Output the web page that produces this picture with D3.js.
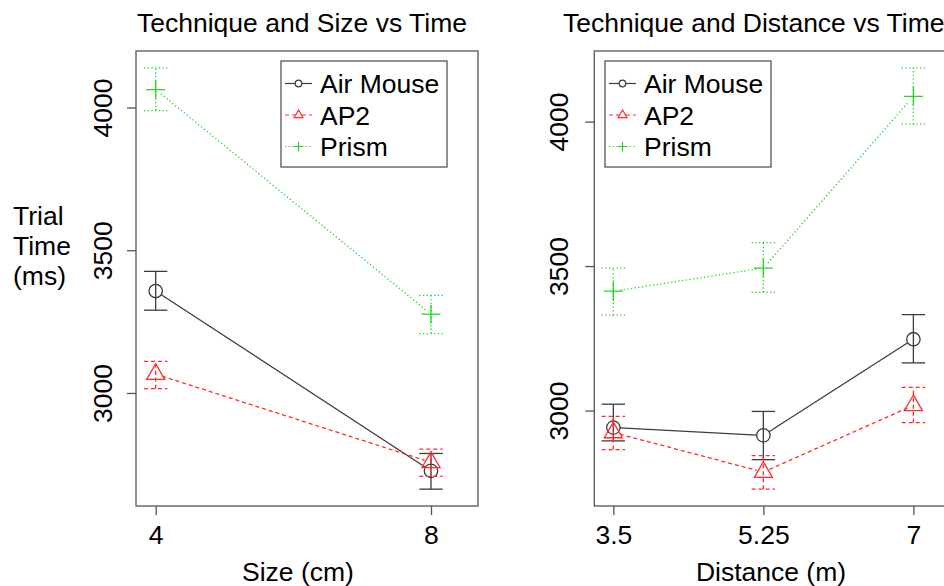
<!DOCTYPE html>
<html>
<head>
<meta charset="utf-8">
<script src="https://cdn.jsdelivr.net/npm/d3@7"></script>
<style>
  html, body { margin: 0; padding: 0; background: #fff; }
  svg { display: block; }
  text { font-family: "Liberation Sans", Arial, sans-serif; fill: #000; }
</style>
</head>
<body>
<svg id="chart" width="944" height="586"></svg>
<script>
// ---------- DATA ----------
const techniques = ["Air Mouse", "AP2", "Prism"];

const sizes = [4, 8];
const sizeTickLabels = ["4", "8"];
const sizeAirMouse   = [3357, 2727];
const sizeAirMouseLo = [3290, 2663];
const sizeAirMouseHi = [3426, 2788];
const sizeAP2        = [3066, 2757];
const sizeAP2Lo      = [3015, 2708];
const sizeAP2Hi      = [3111, 2803];
const sizePrism      = [4063, 3276];
const sizePrismLo    = [3989, 3208];
const sizePrismHi    = [4139, 3342];

const distances = [3.5, 5.25, 7];
const distTickLabels = ["3.5", "5.25", "7"];
const distAirMouse   = [2941, 2914, 3247];
const distAirMouseLo = [2895, 2830, 3165];
const distAirMouseHi = [3022, 2997, 3332];
const distAP2        = [2924, 2787, 3018];
const distAP2Lo      = [2865, 2728, 2958];
const distAP2Hi      = [2980, 2844, 3080];
const distPrism      = [3413, 3493, 4087];
const distPrismLo    = [3330, 3409, 3991];
const distPrismHi    = [3493, 3581, 4186];

const yTicks = [3000, 3500, 4000];

// ---------- STYLE ----------
const seriesStyle = {
  "Air Mouse": { color: "#3c3c3c", dash: null,  shape: "circle" },
  "AP2":       { color: "#ff2a2a", dash: "4,3", shape: "triangle" },
  "Prism":     { color: "#22d622", dash: "1.3,2.4", shape: "plus" }
};
const FS = 26.5;

const svg = d3.select("#chart");
svg.append("rect").attr("width", 944).attr("height", 586).attr("fill", "#fff");

function symbolPath(shape, s) {
  if (shape === "circle") {
    return `M${-s},0A${s},${s} 0 1,0 ${s},0A${s},${s} 0 1,0 ${-s},0Z`;
  } else if (shape === "triangle") {
    const r = 1.555 * s, xc = 1.347 * s, yc = 0.778 * s;
    return `M0,${-r}L${xc},${yc}L${-xc},${yc}Z`;
  } else {
    const h = 1.414 * s;
    return `M${-h},0L${h},0M0,${-h}L0,${h}`;
  }
}

function drawPanel(cfg) {
  const g = svg.append("g");
  const x = d3.scaleLinear().domain(cfg.xDomain).range([cfg.left, cfg.right]);
  const allLo = d3.min(cfg.series.flatMap(s => s.lo));
  const allHi = d3.max(cfg.series.flatMap(s => s.hi));
  const pad = (allHi - allLo) * 0.04;
  const y = d3.scaleLinear().domain([allLo - pad, allHi + pad]).range([cfg.bottom, cfg.top]);

  // Title
  g.append("text").attr("x", cfg.titleX).attr("y", 31.5)
    .attr("font-size", FS).text(cfg.title);

  // x axis
  const xAxis = d3.axisBottom(x).tickValues(cfg.xVals)
    .tickFormat((d, i) => cfg.xLabels[i]).tickSize(9).tickPadding(10);
  const gx = g.append("g").attr("transform", `translate(0,${cfg.bottom})`).call(xAxis);
  gx.select(".domain").remove();
  gx.selectAll(".tick line").attr("stroke", "#555").attr("stroke-width", 1.3);
  gx.selectAll(".tick text").attr("font-size", FS).attr("fill", "#000")
    .attr("font-family", '"Liberation Sans", Arial, sans-serif')
    .attr("dy", null).attr("y", 37.5);

  // y axis
  const yAxis = d3.axisLeft(y).tickValues(yTicks).tickFormat(d3.format("d")).tickSize(9);
  const gy = g.append("g").attr("transform", `translate(${cfg.left},0)`).call(yAxis);
  gy.select(".domain").remove();
  gy.selectAll(".tick line").attr("stroke", "#555").attr("stroke-width", 1.3);
  gy.selectAll(".tick text").attr("font-size", FS).attr("fill", "#000")
    .attr("font-family", '"Liberation Sans", Arial, sans-serif')
    .attr("x", null).attr("dy", null)
    .attr("text-anchor", "middle")
    .attr("transform", `translate(${-cfg.yLabelOff},0) rotate(-90)`);

  // box
  g.append("rect").attr("x", cfg.left).attr("y", cfg.top)
    .attr("width", cfg.right - cfg.left).attr("height", cfg.bottom - cfg.top)
    .attr("fill", "none").attr("stroke", "#555").attr("stroke-width", 1.3);

  // x axis title
  g.append("text").attr("x", cfg.xTitleX).attr("y", 581)
    .attr("text-anchor", "middle").attr("font-size", FS).text(cfg.xTitle);

  const S = 6.7, cap = 11.7;
  cfg.series.forEach(ser => {
    const st = seriesStyle[ser.name];
    const pts = cfg.xVals.map((v, i) => ({ x: x(v), y: y(ser.mean[i]), lo: y(ser.lo[i]), hi: y(ser.hi[i]) }));
    const sg = g.append("g").attr("stroke", st.color).attr("fill", "none")
      .attr("stroke-width", 1.3);
    for (let i = 0; i < pts.length - 1; i++) {
      const a = pts[i], b = pts[i + 1];
      const dx = b.x - a.x, dy = b.y - a.y, L = Math.hypot(dx, dy);
      const gap = S;
      sg.append("line")
        .attr("x1", a.x + dx / L * gap).attr("y1", a.y + dy / L * gap)
        .attr("x2", b.x - dx / L * gap).attr("y2", b.y - dy / L * gap)
        .attr("stroke-dasharray", st.dash);
    }
    pts.forEach(p => {
      sg.append("line").attr("x1", p.x).attr("x2", p.x).attr("y1", p.lo).attr("y2", p.hi)
        .attr("stroke-dasharray", st.dash);
      sg.append("line").attr("x1", p.x - cap).attr("x2", p.x + cap).attr("y1", p.lo).attr("y2", p.lo)
        .attr("stroke-dasharray", st.dash);
      sg.append("line").attr("x1", p.x - cap).attr("x2", p.x + cap).attr("y1", p.hi).attr("y2", p.hi)
        .attr("stroke-dasharray", st.dash);
      sg.append("path").attr("transform", `translate(${p.x},${p.y})`)
        .attr("d", symbolPath(st.shape, S));
    });
  });

  // legend
  const lg = g.append("g");
  lg.append("rect").attr("x", cfg.legX).attr("y", 61).attr("width", 166).attr("height", 106)
    .attr("fill", "#fff").attr("stroke", "#555").attr("stroke-width", 1.3);
  techniques.forEach((name, i) => {
    const st = seriesStyle[name];
    const cy = 83.5 + i * 31.5;
    const x0 = cfg.legX + 4, x1 = cfg.legX + 31, xm = (x0 + x1) / 2;
    lg.append("line").attr("x1", x0).attr("x2", xm - 3.5).attr("y1", cy).attr("y2", cy)
      .attr("stroke", st.color).attr("stroke-width", 1.2).attr("stroke-dasharray", st.dash);
    lg.append("line").attr("x1", xm + 3.5).attr("x2", x1).attr("y1", cy).attr("y2", cy)
      .attr("stroke", st.color).attr("stroke-width", 1.2).attr("stroke-dasharray", st.dash);
    lg.append("path").attr("transform", `translate(${xm},${cy})`)
      .attr("d", symbolPath(st.shape, 3.3)).attr("fill", "none")
      .attr("stroke", st.color).attr("stroke-width", 1.2);
    lg.append("text").attr("x", cfg.legX + 39).attr("y", cy + 9.5)
      .attr("font-size", FS).text(name);
  });
}

const mk = (name, mean, lo, hi) => ({ name, mean, lo, hi });

drawPanel({
  title: "Technique and Size vs Time", titleX: 137,
  xTitle: "Size (cm)", xTitleX: 298,
  left: 136, right: 478, top: 51, bottom: 506,
  xDomain: [3.714, 8.683], xVals: sizes, xLabels: sizeTickLabels,
  yLabelOff: 24, legX: 281,
  series: [
    mk("Air Mouse", sizeAirMouse, sizeAirMouseLo, sizeAirMouseHi),
    mk("AP2", sizeAP2, sizeAP2Lo, sizeAP2Hi),
    mk("Prism", sizePrism, sizePrismLo, sizePrismHi)
  ]
});

drawPanel({
  title: "Technique and Distance vs Time", titleX: 563,
  xTitle: "Distance (m)", xTitleX: 771,
  left: 594.3, right: 950, top: 51, bottom: 506,
  xDomain: [3.278, 7.427], xVals: distances, xLabels: distTickLabels,
  yLabelOff: 26, legX: 605,
  series: [
    mk("Air Mouse", distAirMouse, distAirMouseLo, distAirMouseHi),
    mk("AP2", distAP2, distAP2Lo, distAP2Hi),
    mk("Prism", distPrism, distPrismLo, distPrismHi)
  ]
});

// shared y label
const yl = svg.append("text").attr("font-size", FS);
["Trial", "Time", "(ms)"].forEach((t, i) => {
  yl.append("tspan").attr("x", 13).attr("y", 225 + i * 30).text(t);
});
</script>
</body>
</html>
